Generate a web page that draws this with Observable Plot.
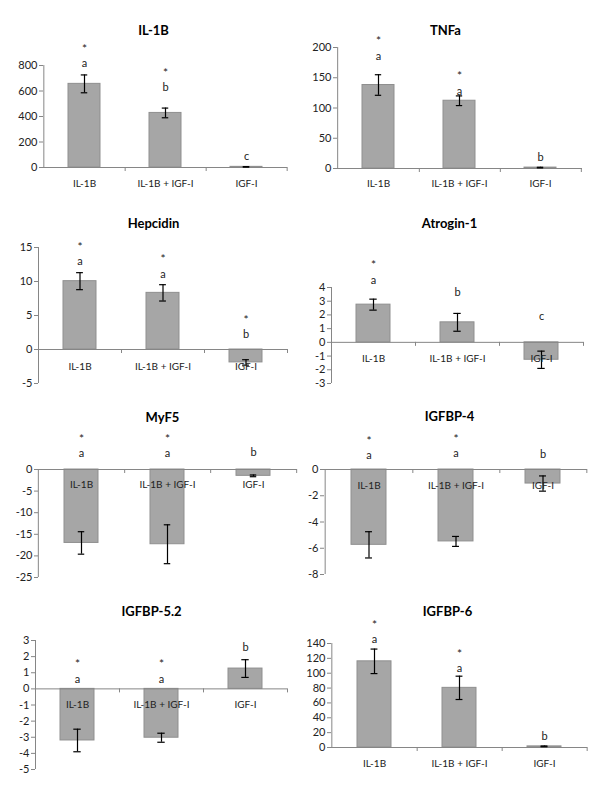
<!DOCTYPE html>
<html><head><meta charset="utf-8">
<script src="https://cdn.jsdelivr.net/npm/d3@7"></script>
<script src="https://cdn.jsdelivr.net/npm/@observablehq/plot@0.6"></script>
<style>
body{margin:0;background:#fff;}
#root{position:relative;width:600px;height:793px;overflow:hidden;background:#fff;}
#root > svg{position:absolute;overflow:visible;}
</style></head><body><div id="root"></div>
<script>
// ---------- data ----------
const categories = ["IL-1B", "IL-1B + IGF-I", "IGF-I"];

const il1bValues = [656, 428, 5];
const il1bErrors = [70, 38, 2];
const il1bTicks = [0, 200, 400, 600, 800];
const il1bLetters = ["a", "b", "c"];
const il1bLetterY = [818, 630, 87];
const il1bStarY = [944, 755, null];

const tnfValues = [138, 112, 1.5];
const tnfErrors = [17, 8, 0.5];
const tnfTicks = [0, 50, 100, 150, 200];
const tnfLetters = ["a", "a", "b"];
const tnfLetterY = [186, 128, 19];
const tnfStarY = [214, 156, null];

const hepValues = [10.05, 8.33, -1.9];
const hepErrors = [1.25, 1.2, 0.4];
const hepTicks = [-5, 0, 5, 10, 15];
const hepLetters = ["a", "a", "b"];
const hepLetterY = [13, 11.1, 2.2];
const hepStarY = [15.4, 13.6, 4.56];

const atroValues = [2.75, 1.46, -1.27];
const atroErrors = [0.4, 0.65, 0.63];
const atroTicks = [-3, -2, -1, 0, 1, 2, 3, 4];
const atroLetters = ["a", "b", "c"];
const atroLetterY = [4.5, 3.65, 1.9];
const atroStarY = [5.74, null, null];

const myf5Values = [-17.0, -17.3, -1.47];
const myf5Errors = [2.6, 4.5, 0.2];
const myf5Ticks = [-25, -20, -15, -10, -5, 0];
const myf5Letters = ["a", "a", "b"];
const myf5LetterY = [3.6, 3.6, 4.0];
const myf5StarY = [7.5, 7.5, null];

const bp4Values = [-5.74, -5.48, -1.07];
const bp4Errors = [1.0, 0.38, 0.58];
const bp4Ticks = [-8, -6, -4, -2, 0];
const bp4Letters = ["a", "a", "b"];
const bp4LetterY = [1.1, 1.2, 1.14];
const bp4StarY = [2.33, 2.5, null];

const bp52Values = [-3.2, -3.03, 1.26];
const bp52Errors = [0.7, 0.28, 0.55];
const bp52Ticks = [-5, -4, -3, -2, -1, 0, 1, 2, 3];
const bp52Letters = ["a", "a", "b"];
const bp52LetterY = [0.58, 0.58, 2.58];
const bp52StarY = [1.65, 1.65, null];

const bp6Values = [116, 80.3, 1.5];
const bp6Errors = [16.5, 15.7, 0.5];
const bp6Ticks = [0, 20, 40, 60, 80, 100, 120, 140];
const bp6Letters = ["a", "a", "b"];
const bp6LetterY = [145, 106, 15];
const bp6StarY = [167.8, 128.6, null];

const panels = [
  {title: "IL-1B", values: il1bValues, errors: il1bErrors, ticks: il1bTicks, letters: il1bLetters, letterY: il1bLetterY, starY: il1bStarY},
  {title: "TNFa", values: tnfValues, errors: tnfErrors, ticks: tnfTicks, letters: tnfLetters, letterY: tnfLetterY, starY: tnfStarY},
  {title: "Hepcidin", values: hepValues, errors: hepErrors, ticks: hepTicks, letters: hepLetters, letterY: hepLetterY, starY: hepStarY},
  {title: "Atrogin-1", values: atroValues, errors: atroErrors, ticks: atroTicks, letters: atroLetters, letterY: atroLetterY, starY: atroStarY},
  {title: "MyF5", values: myf5Values, errors: myf5Errors, ticks: myf5Ticks, letters: myf5Letters, letterY: myf5LetterY, starY: myf5StarY},
  {title: "IGFBP-4", values: bp4Values, errors: bp4Errors, ticks: bp4Ticks, letters: bp4Letters, letterY: bp4LetterY, starY: bp4StarY},
  {title: "IGFBP-5.2", values: bp52Values, errors: bp52Errors, ticks: bp52Ticks, letters: bp52Letters, letterY: bp52LetterY, starY: bp52StarY},
  {title: "IGFBP-6", values: bp6Values, errors: bp6Errors, ticks: bp6Ticks, letters: bp6Letters, letterY: bp6LetterY, starY: bp6StarY}
];

// ---------- layout (pixels) ----------
const layout = [
  {left: 0,   top: 0,   h: 190, ml: 43, mr: 13, mt: 65, mb: 23, tx: 153, ty: 25,  catDy: 16},
  {left: 300, top: 0,   h: 190, ml: 37, mr: 18, mt: 47, mb: 22, tx: 445, ty: 25,  catDy: 15},
  {left: 0,   top: 190, h: 200, ml: 38, mr: 13, mt: 57, mb: 7,  tx: 153, ty: 218, catDy: 17},
  {left: 300, top: 190, h: 200, ml: 31, mr: 17, mt: 97, mb: 7,  tx: 449, ty: 218, catDy: 16},
  {left: 0,   top: 390, h: 205, ml: 38, mr: 3,  mt: 79, mb: 18, tx: 162, ty: 412, catDy: 15},
  {left: 300, top: 390, h: 205, ml: 24, mr: 13, mt: 79, mb: 21, tx: 449, ty: 411, catDy: 16},
  {left: 0,   top: 595, h: 198, ml: 35, mr: 13, mt: 45, mb: 24, tx: 151, ty: 606, catDy: 16},
  {left: 300, top: 595, h: 198, ml: 31, mr: 13, mt: 48, mb: 46, tx: 447, ty: 606, catDy: 16}
];

const axisColor = "#868686";
const font = "Lato, 'Open Sans', sans-serif";
const root = document.getElementById("root");

panels.forEach((p, k) => {
  const L = layout[k];
  const data = categories.map((c, i) => ({
    cat: c, v: p.values[i], e: p.errors[i],
    letter: p.letters[i], letterY: p.letterY[i], starY: p.starY[i]
  }));
  const domain = [d3.min(p.ticks), d3.max(p.ticks)];
  const step = (300 - L.ml - L.mr) / categories.length;
  const bw = step * 0.4;
  const capInset = (bw - 7) / 2;
  const svg = Plot.plot({
    width: 300, height: L.h,
    marginLeft: L.ml, marginRight: L.mr, marginTop: L.mt, marginBottom: L.mb,
    style: {fontFamily: font, fontSize: "10px", color: "#000", background: "transparent", overflow: "visible"},
    x: {domain: categories, paddingInner: 0.6, paddingOuter: 0.3, axis: null},
    y: {domain, axis: null},
    marks: [
      Plot.barY(data, {x: "cat", y: "v", fill: "#a6a6a6", stroke: "#8f8f8f", strokeWidth: 1}),
      Plot.ruleY([0], {stroke: axisColor}),
      Plot.ruleX([categories[0]], {dx: -step / 2, y1: domain[0], y2: domain[1], stroke: axisColor}),
      Plot.ruleX(categories, {x: d => d, y1: 0, y2: 0, dx: step / 2, insetBottom: -4, stroke: axisColor}),
      Plot.axisY({ticks: p.ticks, tickSize: 4, tickPadding: 2, tickFormat: d => String(d), stroke: axisColor, fill: "#222", fontSize: 11, label: null}),
      Plot.ruleX(data, {x: "cat", y1: d => d.v - d.e, y2: d => d.v + d.e, stroke: "#000", strokeWidth: 1.2}),
      Plot.tickY(data, {x: "cat", y: d => d.v + d.e, insetLeft: capInset, insetRight: capInset, stroke: "#000", strokeWidth: 1.2}),
      Plot.tickY(data, {x: "cat", y: d => d.v - d.e, insetLeft: capInset, insetRight: capInset, stroke: "#000", strokeWidth: 1.2}),
      Plot.text(categories, {x: d => d, y: () => 0, dy: L.catDy, text: d => d, fill: "#222", fontSize: 10}),
      Plot.text(data, {x: "cat", y: "letterY", text: "letter", fill: "#222", fontSize: 11}),
      Plot.text(data.filter(d => d.starY != null), {x: "cat", y: "starY", dy: 2, text: () => "*", fill: "#222", fontSize: 12}),
      Plot.text([p.title], {frameAnchor: "top-left", dx: L.tx - L.left - L.ml, dy: L.ty - L.top - L.mt, text: d => d, textAnchor: "middle", fontWeight: "bold", fontSize: 13, fill: "#000"})
    ]
  });
  svg.style.left = L.left + "px";
  svg.style.top = L.top + "px";
  root.appendChild(svg);
});
</script>
</body></html>
